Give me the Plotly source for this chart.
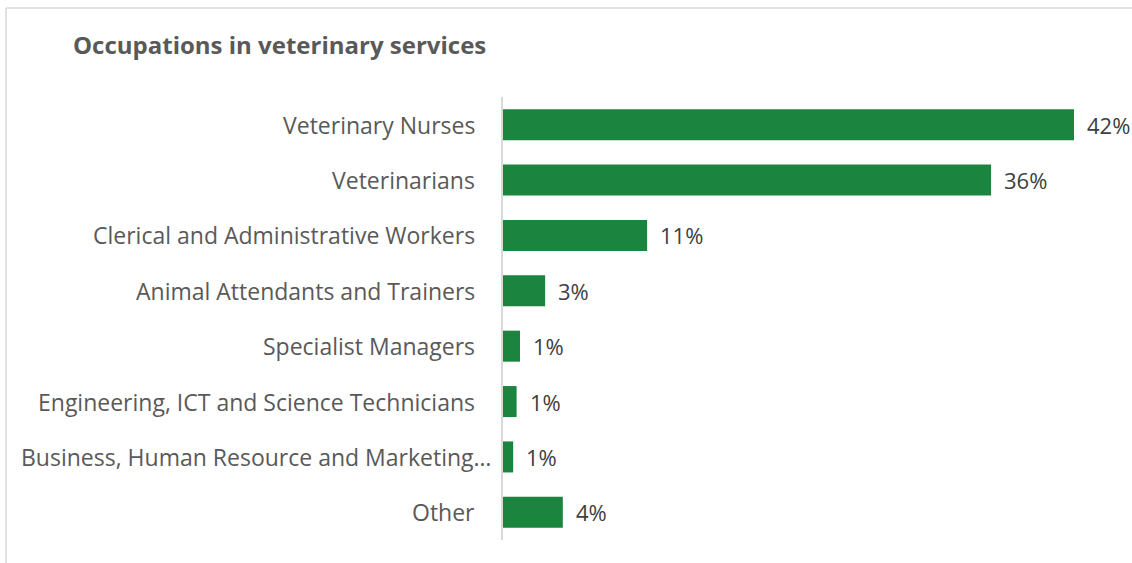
import plotly.graph_objects as go

categories = [
    "Veterinary Nurses",
    "Veterinarians",
    "Clerical and Administrative Workers",
    "Animal Attendants and Trainers",
    "Specialist Managers",
    "Engineering, ICT and Science Technicians",
    "Business, Human Resource and Marketing…",
    "Other",
]
values = [42.0, 35.9, 10.6, 3.1, 1.25, 1.0, 0.75, 4.4]
labels = ["42%", "36%", "11%", "3%", "1%", "1%", "1%", "4%"]

W, H = 1132, 563
ml, mr, mt, mb = 503, 2, 97, 23
pw = W - ml - mr
ph = H - mt - mb
xmax = pw / (571 / 42.0)

fig = go.Figure(go.Bar(
    y=categories,
    x=values,
    orientation="h",
    marker=dict(color="#1b843f", line=dict(width=0)),
    width=0.56,
    hoverinfo="skip",
))

annotations = []
# category labels (left of axis)
for c in categories:
    shift = -10 if c.endswith("…") else -26
    annotations.append(dict(
        x=0, xref="paper", y=c, yref="y", xanchor="right", yanchor="middle",
        xshift=shift, showarrow=False, text=c,
        font=dict(family="Open Sans", size=23, color="#595959"),
    ))
# value labels (right of bars)
for c, v, t in zip(categories, values, labels):
    annotations.append(dict(
        x=v, xref="x", y=c, yref="y", xanchor="left", yanchor="middle",
        xshift=11, showarrow=False, text=t,
        font=dict(family="Open Sans", size=22, color="#404040"),
    ))

def px_x(p):
    return (p - ml) / pw

def px_y(p):
    return (H - mb - p) / ph

fig.update_layout(
    width=W, height=H,
    margin=dict(l=ml, r=mr, t=mt, b=mb),
    paper_bgcolor="white",
    plot_bgcolor="white",
    showlegend=False,
    title=dict(
        text="<b>Occupations in veterinary services</b>",
        x=73 / W, xanchor="left", xref="container",
        y=1 - 46 / H, yanchor="middle", yref="container",
        font=dict(family="Open Sans", size=24, color="#595959"),
    ),
    xaxis=dict(range=[0, xmax], visible=False),
    yaxis=dict(
        autorange="reversed",
        showline=True, linecolor="#d9d9d9", linewidth=2,
        showgrid=False, ticks="", showticklabels=False,
    ),
    annotations=annotations,
    shapes=[
        dict(type="line", xref="paper", yref="paper",
             x0=px_x(6), x1=px_x(1140), y0=px_y(8), y1=px_y(8),
             line=dict(color="#d9d9d9", width=1.5)),
        dict(type="line", xref="paper", yref="paper",
             x0=px_x(6), x1=px_x(6), y0=px_y(8), y1=px_y(570),
             line=dict(color="#d9d9d9", width=1.5)),
    ],
)

fig.write_html(
    "out.html",
    config={"displayModeBar": False},
    post_script="document.body.style.margin='0';document.body.style.overflow='hidden';",
)
